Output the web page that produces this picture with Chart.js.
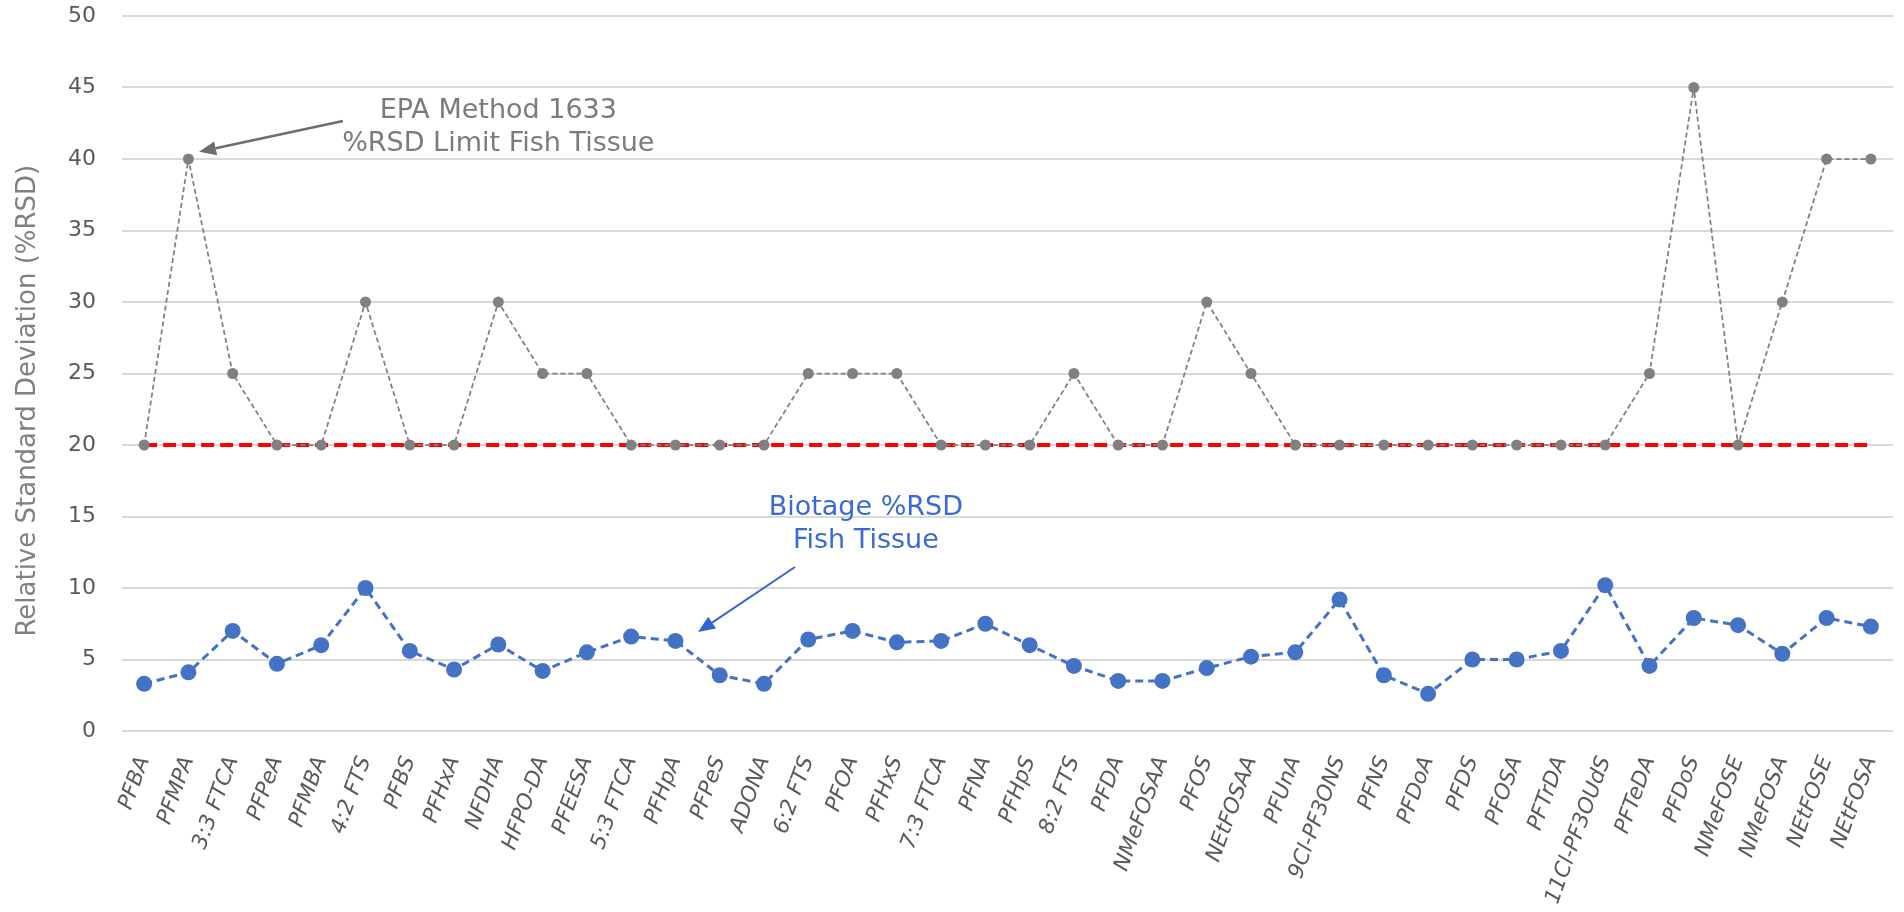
<!DOCTYPE html>
<html lang="en">
<head>
    <meta charset="UTF-8">
    <title>%RSD Fish Tissue</title>
    <script src="https://cdn.jsdelivr.net/npm/chart.js"></script>
    <style>
        html, body { margin: 0; padding: 0; background: #fff; }
        .chart-box { width: 1904px; height: 912px; position: relative; }
    </style>
</head>
<body>
    <div class="chart-box">
        <canvas id="rsd"></canvas>
    </div>
    <script>
        const compounds = [
            'PFBA', 'PFMPA', '3:3 FTCA', 'PFPeA', 'PFMBA', '4:2 FTS', 'PFBS', 'PFHxA', 'NFDHA', 'HFPO-DA',
            'PFEESA', '5:3 FTCA', 'PFHpA', 'PFPeS', 'ADONA', '6:2 FTS', 'PFOA', 'PFHxS', '7:3 FTCA', 'PFNA',
            'PFHpS', '8:2 FTS', 'PFDA', 'NMeFOSAA', 'PFOS', 'NEtFOSAA', 'PFUnA', '9Cl-PF3ONS', 'PFNS', 'PFDoA',
            'PFDS', 'PFOSA', 'PFTrDA', '11Cl-PF3OUdS', 'PFTeDA', 'PFDoS', 'NMeFOSE', 'NMeFOSA', 'NEtFOSE', 'NEtFOSA'
        ];

        // Biotage %RSD, fish tissue
        const biotageRsd = [
            3.3, 4.1, 7.0, 4.7, 6.0, 10.0, 5.6, 4.3, 6.05, 4.2,
            5.5, 6.6, 6.3, 3.9, 3.3, 6.4, 7.0, 6.2, 6.3, 7.5,
            6.0, 4.55, 3.5, 3.5, 4.4, 5.2, 5.5, 9.2, 3.9, 2.6,
            5.0, 5.0, 5.6, 10.2, 4.55, 7.9, 7.4, 5.4, 7.9, 7.3
        ];

        // EPA Method 1633 %RSD limits, fish tissue
        const epaLimit = [
            20, 40, 25, 20, 20, 30, 20, 20, 30, 25,
            25, 20, 20, 20, 20, 25, 25, 25, 20, 20,
            20, 25, 20, 20, 30, 25, 20, 20, 20, 20,
            20, 20, 20, 20, 25, 45, 20, 30, 40, 40
        ];

        // 20 %RSD reference line
        const rsdTarget = [
            20, 20, 20, 20, 20, 20, 20, 20, 20, 20,
            20, 20, 20, 20, 20, 20, 20, 20, 20, 20,
            20, 20, 20, 20, 20, 20, 20, 20, 20, 20,
            20, 20, 20, 20, 20, 20, 20, 20, 20, 20
        ];

        const yTicks = [0, 5, 10, 15, 20, 25, 30, 35, 40, 45, 50];

        const FONT = "'DejaVu Sans', Verdana, sans-serif";

        // callouts: text lines + arrow, positioned in data units (category index, %RSD)
        const callouts = [
            {
                lines: ['EPA Method 1633', '%RSD Limit Fish Tissue'],
                at: [8.0, 42.87], lineGap: 33, color: '#7b7b7b',
                arrowColor: '#6e6e6e', from: [4.49, 42.66], to: [1.24, 40.5], width: 2.5
            },
            {
                lines: ['Biotage %RSD', 'Fish Tissue'],
                at: [16.3, 15.1], lineGap: 33, color: '#3a6bd2',
                arrowColor: '#3366cc', from: [14.70, 11.47], to: [12.51, 6.92], width: 2
            }
        ];

        // y axis title sits a little below the middle of the plot
        const yTitle = { text: 'Relative Standard Deviation (%RSD)', x: 28, at: 23.1 };

        const calloutPlugin = {
            id: 'callouts',
            afterDatasetsDraw(chart) {
                const {ctx, scales: {x, y}} = chart;
                ctx.save();

                ctx.save();
                ctx.translate(yTitle.x, y.getPixelForValue(yTitle.at));
                ctx.rotate(-Math.PI / 2);
                ctx.font = '26px ' + FONT;
                ctx.fillStyle = '#808080';
                ctx.textAlign = 'center';
                ctx.textBaseline = 'middle';
                ctx.fillText(yTitle.text, 0, 0);
                ctx.restore();

                callouts.forEach(c => {
                    ctx.font = '27px ' + FONT;
                    ctx.fillStyle = c.color;
                    ctx.textAlign = 'center';
                    ctx.textBaseline = 'alphabetic';
                    const cx = x.getPixelForValue(c.at[0]);
                    const cy = y.getPixelForValue(c.at[1]);
                    c.lines.forEach((t, i) => ctx.fillText(t, cx, cy + i * c.lineGap));

                    const x1 = x.getPixelForValue(c.from[0]), y1 = y.getPixelForValue(c.from[1]);
                    const x2 = x.getPixelForValue(c.to[0]), y2 = y.getPixelForValue(c.to[1]);
                    const ang = Math.atan2(y2 - y1, x2 - x1);
                    const head = 17, half = 7;
                    const bx = x2 - head * Math.cos(ang), by = y2 - head * Math.sin(ang);
                    ctx.strokeStyle = c.arrowColor;
                    ctx.fillStyle = c.arrowColor;
                    ctx.lineWidth = c.width;
                    ctx.beginPath();
                    ctx.moveTo(x1, y1);
                    ctx.lineTo(bx, by);
                    ctx.stroke();
                    ctx.beginPath();
                    ctx.moveTo(x2, y2);
                    ctx.lineTo(bx + half * Math.sin(ang), by - half * Math.cos(ang));
                    ctx.lineTo(bx - half * Math.sin(ang), by + half * Math.cos(ang));
                    ctx.closePath();
                    ctx.fill();
                });
                ctx.restore();
            }
        };

        new Chart(document.getElementById('rsd'), {
            type: 'line',
            data: {
                labels: compounds,
                datasets: [
                    {
                        label: 'Biotage %RSD Fish Tissue',
                        data: biotageRsd,
                        borderColor: '#4472c4',
                        backgroundColor: '#4472c4',
                        borderWidth: 3,
                        borderDash: [8, 5],
                        pointRadius: 8,
                        pointBorderWidth: 0,
                        tension: 0
                    },
                    {
                        label: 'EPA Method 1633 %RSD Limit Fish Tissue',
                        data: epaLimit,
                        borderColor: '#808080',
                        backgroundColor: '#808080',
                        borderWidth: 1.75,
                        borderDash: [5, 3],
                        pointRadius: 5.5,
                        pointBorderWidth: 0,
                        tension: 0
                    },
                    {
                        label: '20 %RSD',
                        data: rsdTarget,
                        borderColor: '#ff0000',
                        borderWidth: 4,
                        borderDash: [13, 6],
                        pointRadius: 0,
                        tension: 0
                    }
                ]
            },
            options: {
                responsive: true,
                maintainAspectRatio: false,
                animation: false,
                layout: {
                    padding: { top: 16, right: 11, bottom: 0, left: 0 }
                },
                plugins: {
                    legend: { display: false },
                    tooltip: { enabled: false }
                },
                scales: {
                    x: {
                        offset: true,
                        grid: { display: false },
                        border: { display: false },
                        ticks: {
                            autoSkip: false,
                            minRotation: 70,
                            maxRotation: 70,
                            padding: 14,
                            color: '#595959',
                            font: { family: FONT, size: 21.5, style: 'italic' }
                        },
                        afterFit(scale) {
                            scale.height = 181;
                            scale.paddingLeft = 0;
                            scale.paddingRight = 0;
                        }
                    },
                    y: {
                        min: 0,
                        max: 50,
                        afterBuildTicks(scale) { scale.ticks = yTicks.map(v => ({ value: v })); },
                        grid: { color: '#d9d9d9', lineWidth: 2, drawTicks: false },
                        border: { display: false },
                        ticks: {
                            padding: 26,
                            color: '#595959',
                            font: { family: FONT, size: 22 }
                        },
                        afterFit(scale) {
                            scale.width = 122;
                            // tick padding only pushes labels off the axis, not the plot top
                            scale.paddingTop = 0;
                            scale.paddingBottom = 0;
                        }
                    }
                }
            },
            plugins: [calloutPlugin]
        });
    </script>
</body>
</html>
